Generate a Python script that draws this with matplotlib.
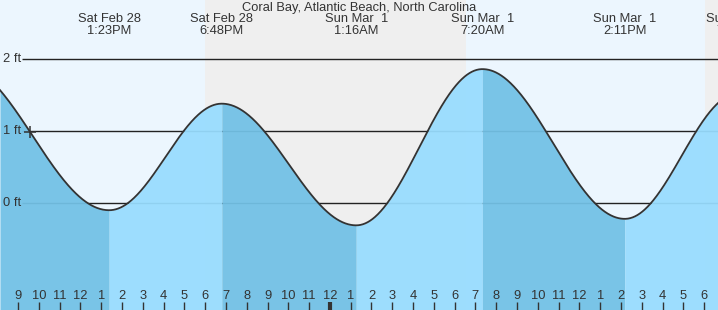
import numpy as np
import matplotlib
matplotlib.use("Agg")
import matplotlib.pyplot as plt
from datetime import datetime

plt.rcParams["font.family"] = ["Liberation Sans", "DejaVu Sans"]

title = "Coral Bay, Atlantic Beach, North Carolina"

# tide extremes (first and last one sit just outside the window)
extreme_times = ["2015-02-28 06:05", "2015-02-28 13:23", "2015-02-28 18:48",
                 "2015-03-01 01:16", "2015-03-01 07:20", "2015-03-01 14:11",
                 "2015-03-01 19:38"]
extreme_heights = [1.94, -0.10, 1.38, -0.31, 1.86, -0.22, 1.52]
extreme_day = ["", "Sat Feb 28", "Sat Feb 28", "Sun Mar  1", "Sun Mar  1",
               "Sun Mar  1", "Sun Mar  1"]
extreme_clock = ["", "1:23PM", "6:48PM", "1:16AM", "7:20AM", "2:11PM", "7:38PM"]

# night shading (sunset -> sunrise)
night_start = ["2015-02-28 18:00", "2015-03-01 18:02"]
night_end = ["2015-03-01 06:33", "2015-03-02 06:30"]

# hourly ticks starting 9 AM Sat
tick_start = "2015-02-28 09:00"
hour_labels = ["9", "10", "11", "12", "1", "2", "3", "4", "5", "6", "7", "8",
               "9", "10", "11", "12", "1", "2", "3", "4", "5", "6", "7", "8",
               "9", "10", "11", "12", "1", "2", "3", "4", "5", "6"]
midnight_label_index = 15

now_time = "2015-02-28 09:35"
level_lines = [0, 1, 2]
window = ("2015-02-28 08:08", "2015-03-01 18:40")

BASE = datetime(2015, 2, 28, 9, 0)
FS = 9.3


def hrs(s):
    return (datetime.strptime(s, "%Y-%m-%d %H:%M") - BASE).total_seconds() / 3600.0


def tide_at(t, T, H):
    i = np.clip(np.searchsorted(T, t, side="right") - 1, 0, len(T) - 2)
    f = (t - T[i]) / (T[i + 1] - T[i])
    return H[i] + (H[i + 1] - H[i]) * (1 - np.cos(np.pi * f)) / 2


T = np.array([hrs(s) for s in extreme_times])
H = np.array(extreme_heights)
x0, x1 = hrs(window[0]), hrs(window[1])
ybot, ytop = -1.486, 2.82

day_bg = "#ecf6fe"
night_bg = "#efefef"
rise_fill = "#98dcfe"
fall_fill = "#72c1e6"
ink = "#333333"

fig = plt.figure(figsize=(7.18, 3.10), dpi=100)
ax = fig.add_axes([0, 0, 1, 1])
ax.set_xlim(x0, x1)
ax.set_ylim(ybot, ytop)
ax.axis("off")
ax.add_patch(plt.Rectangle((x0, ybot), x1 - x0, ytop - ybot, color=day_bg, zorder=0))
for a, b in zip(night_start, night_end):
    ax.axvspan(hrs(a), hrs(b), color=night_bg, zorder=0.5, lw=0)

px_per_hr = 718 / (x1 - x0)
ax.hlines(level_lines, x0 + 22 / px_per_hr, x1, color="#222222", lw=1, zorder=1)
for lv in level_lines:
    ax.text(x0 + 3 / px_per_hr, lv, f"{lv} ft", ha="left", va="center",
            fontsize=FS, color=ink, zorder=6)

# filled tide, darker on the falling legs
for i in range(len(T) - 1):
    a, b = max(T[i], x0), min(T[i + 1], x1)
    if a >= b:
        continue
    t = np.linspace(a, b, 200)
    col = fall_fill if H[i] > H[i + 1] else rise_fill
    ax.fill_between(t, ybot, tide_at(t, T, H), color=col, lw=0, alpha=0.94, zorder=2)

t = np.linspace(x0, x1, 1500)
ax.plot(t, tide_at(t, T, H), color=ink, lw=1.3, zorder=3)

tn = hrs(now_time)
ax.plot([tn], [tide_at(np.array([tn]), T, H)[0]], marker="+", ms=9, mew=1.1,
        color=ink, zorder=4)

# hour ticks along the bottom
xt = ax.get_xaxis_transform()
t0 = hrs(tick_start)
for k, lab in enumerate(hour_labels):
    xk = t0 + k
    lw = 3 if k == midnight_label_index else 1
    ax.plot([xk, xk], [0, 8 / 310], transform=xt, color=ink, lw=lw,
            solid_capstyle="butt", zorder=5)
    ax.text(xk, 1 - 296 / 310, lab, transform=xt, ha="center", va="center",
            fontsize=FS, color=ink, zorder=5)

# extreme labels along the top
fig.text(0.5, 1 - 8 / 310, title, ha="center", va="center", fontsize=FS, color=ink)
for tm, day, clk in zip(T, extreme_day, extreme_clock):
    if not day:
        continue
    ax.text(tm, 1 - 19.5 / 310, day, transform=xt, ha="center", va="center",
            fontsize=FS, color=ink, zorder=5, clip_on=False)
    ax.text(tm, 1 - 31.5 / 310, clk, transform=xt, ha="center", va="center",
            fontsize=FS, color=ink, zorder=5, clip_on=False)

fig.savefig("out.png", dpi=100)
